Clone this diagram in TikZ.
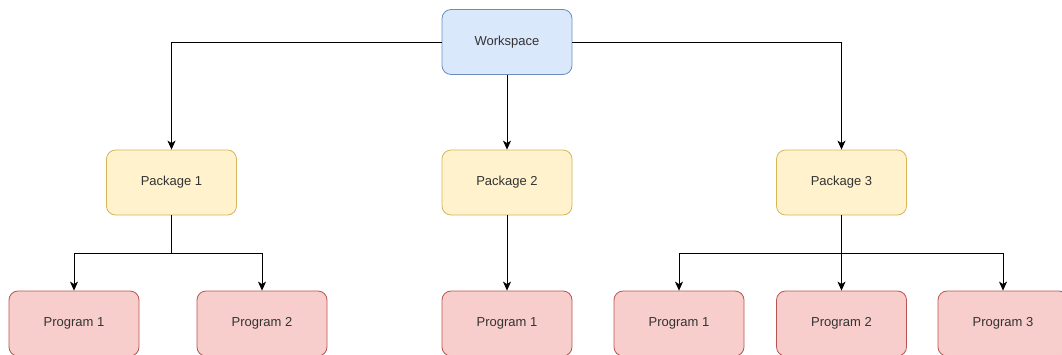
\documentclass[tikz,border=0pt]{standalone}
\usepackage{fontspec}
\setmainfont{Liberation Sans}
\usetikzlibrary{arrows.meta}
\definecolor{bfill}{HTML}{DAE8FC}
\definecolor{bline}{HTML}{6C8EBF}
\definecolor{yfill}{HTML}{FFF2CC}
\definecolor{yline}{HTML}{D6B656}
\definecolor{rfill}{HTML}{F8CECC}
\definecolor{rline}{HTML}{B85450}
\definecolor{txt}{HTML}{333333}
\begin{document}
\begin{tikzpicture}[x=1pt,y=-1pt,
  box/.style={draw, rounded corners=9pt, minimum width=130pt, minimum height=65pt, line width=0.8pt, font=\fontsize{13}{15}\selectfont, text=txt, inner sep=0pt},
  wsbox/.style={box, fill=bfill, draw=bline},
  pkbox/.style={box, fill=yfill, draw=yline},
  prbox/.style={box, fill=rfill, draw=rline},
  arr/.style={draw=black, line width=0.8pt, -{Stealth[length=9pt,width=8pt,inset=2.5pt]}}]
\useasboundingbox (0,0) rectangle (1062,354);
\clip (0,0) rectangle (1062,354);
\node[wsbox] (ws) at (507,42) {Workspace};
\node[pkbox] (p1) at (171.5,182.5) {Package 1};
\node[pkbox] (p2) at (507,182.5) {Package 2};
\node[pkbox] (p3) at (841.5,182.5) {Package 3};
\node[prbox] (a1) at (74,323.5) {Program 1};
\node[prbox] (a2) at (262,323.5) {Program 2};
\node[prbox] (b1) at (507,323.5) {Program 1};
\node[prbox] (c1) at (679,323.5) {Program 1};
\node[prbox] (c2) at (841.5,323.5) {Program 2};
\node[prbox] (c3) at (1003,323.5) {Program 3};
\coordinate (j1) at (171.5,253);
\coordinate (j3) at (841.5,253);
\draw[arr] (ws.west) -| (p1.north);
\draw[arr] (ws.east) -| (p3.north);
\draw[arr] (ws.south) -- (p2.north);
\draw[arr] (p2.south) -- (b1.north);
\draw[arr] (p1.south) -- (j1) -| (a1.north);
\draw[arr] (p1.south) -- (j1) -| (a2.north);
\draw[arr] (p3.south) -- (j3) -| (c1.north);
\draw[arr] (p3.south) -- (c2.north);
\draw[arr] (p3.south) -- (j3) -| (c3.north);
\end{tikzpicture}
\end{document}
